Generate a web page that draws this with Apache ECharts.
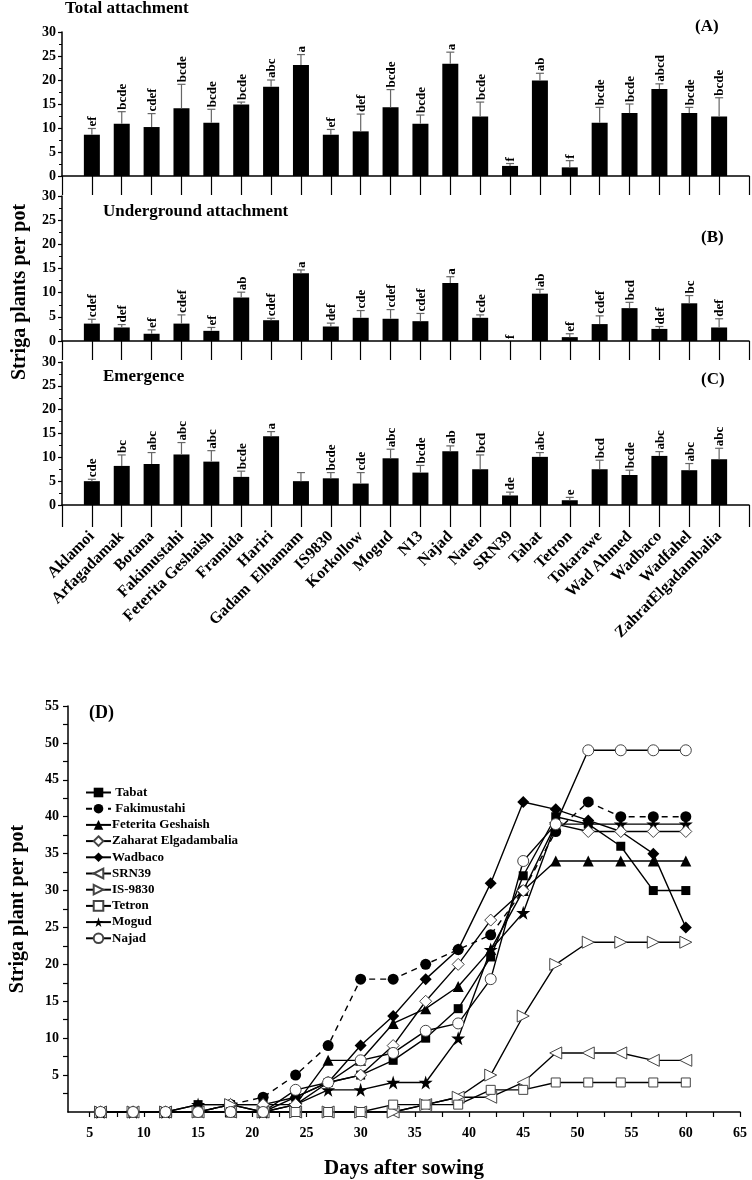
<!DOCTYPE html>
<html><head><meta charset="utf-8">
<script src="https://cdn.jsdelivr.net/npm/echarts@6/dist/echarts.min.js"></script>
<style>html,body{margin:0;padding:0;background:#fff}#c{width:752px;height:1180px}</style>
</head><body><div id="c"></div>
<script>
const categories = ['Aklamoi','Arfagadamak','Botana','Fakimustahi','Feterita Geshaish','Framida','Hariri','Gadam  Elhamam','IS9830','Korkollow','Mogud','N13','Najad','Naten','SRN39','Tabat','Tetron','Tokarawe','Wad Ahmed','Wadbaco','Wadfahel','ZahratElgadambalia'];
const catPos = [1,2,3,4,5,6,7,8,9,10,11,12,13,14,15,16,17,18,19,20,21,22];

const totalMean = [8.6,10.9,10.2,14.1,11.1,14.9,18.6,23.1,8.6,9.3,14.3,10.9,23.4,12.4,2.1,19.9,1.8,11.1,13.1,18.1,13.1,12.4];
const totalErr  = [9.9,13.4,13.0,19.1,13.9,15.4,20.0,25.3,9.7,12.9,18.0,12.7,25.8,15.4,2.6,21.4,3.2,14.3,15.0,19.2,14.3,16.3];
const totalLetters = ['ef','bcde','cdef','bcde','bcde','bcde','abc','a','ef','def','bcde','bcde','a','bcde','f','ab','f','bcde','bcde','abcd','bcde','bcde'];

const underMean = [3.6,2.8,1.5,3.6,2.1,9.0,4.3,14.0,3.0,4.8,4.6,4.1,12.0,4.8,0,9.8,0.8,3.5,6.8,2.5,7.8,2.8];
const underErr  = [4.5,3.4,2.3,5.4,2.8,10.1,4.7,14.7,3.7,6.3,6.5,5.7,13.3,5.4,0,10.7,1.5,5.2,8.0,3.0,9.4,4.6];
const underLetters = ['cdef','def','ef','cdef','ef','ab','cdef','a','def','cde','cdef','cdef','a','cde','f','ab','ef','cdef','bcd','def','bc','def'];

const emergMean = [5.0,8.2,8.6,10.6,9.1,5.9,14.4,5.0,5.6,4.5,9.8,6.8,11.3,7.5,2.0,10.1,1.0,7.5,6.3,10.3,7.3,9.6];
const emergErr  = [5.4,10.5,11.0,13.1,11.4,7.1,15.4,6.8,6.8,6.8,11.7,8.3,12.4,10.5,2.7,11.0,1.6,9.4,7.3,11.2,8.7,11.9];
const emergLetters = ['cde','bc','abc','abc','abc','bcde','a','','bcde','cde','abc','bcde','ab','bcd','de','abc','e','bcd','bcde','abc','abc','abc'];

const barYTicks = [0,5,10,15,20,25,30];

const days = [6,9,12,15,18,21,24,27,30,33,36,39,42,45,48,51,54,57,60];
const tabat      = [0,0,0,1,1,1,2,4,5,7,10,14,21,32,40,39,36,30,30];
const fakimustahi= [0,0,0,0,1,2,5,9,18,18,20,22,24,30,38,42,40,40,40];
const feterita   = [0,0,0,0,0,0,1,7,7,12,14,17,22,30,34,34,34,34,34];
const zaharat    = [0,0,0,0,1,1,1,4,5,9,15,20,26,30,39,38,38,38,38];
const wadbaco    = [0,0,0,0,0,0,2,4,9,13,18,22,31,42,41,39.5,38,35,25];
const srn39      = [0,0,0,0,0,0,0,0,0,0,1,2,2,4,8,8,8,7,7];
const is9830     = [0,0,0,0,1,0,0,0,0,0,1,2,5,13,20,23,23,23,23];
const tetron     = [0,0,0,0,0,0,0,0,0,1,1,1,3,3,4,4,4,4,4];
const mogud      = [0,0,0,1,1,0,1,3,3,4,4,10,22,27,39,39,39,39,39];
const najad      = [0,0,0,0,0,0,3,4,7,8,11,12,18,34,39,49,49,49,49];

const dXLabels = [5,10,15,20,25,30,35,40,45,50,55,60,65];
const dXTicks = [5,7.5,10,12.5,15,17.5,20,22.5,25,27.5,30,32.5,35,37.5,40,42.5,45,47.5,50,52.5,55,57.5,60,62.5,65];
const dYLabels = [5,10,15,20,25,30,35,40,45,50,55];
const dYTicks = [2.5,5,7.5,10,12.5,15,17.5,20,22.5,25,27.5,30,32.5,35,37.5,40,42.5,45,47.5,50,52.5,55];

const FF = '"Liberation Serif","Times New Roman",serif';
const chart = echarts.init(document.getElementById('c'), null, {renderer:'canvas'});

const grids = [
  {left:62, right:3, top:32, height:144},
  {left:62, right:3, top:196, height:145},
  {left:62, right:3, top:362, height:143},
  {left:62, right:12, top:706, height:408}
];

function pairs(xs, ys){ return xs.map((x,i)=>[x, ys[i]]); }
function triples(xs, ys, es){ return xs.map((x,i)=>[x, ys[i], es[i]]); }

function errRender(letters){
  return function(params, api){
    const v = api.value(1), e = api.value(2), x = api.value(0);
    const p0 = api.coord([x, v]), p1 = api.coord([x, e]);
    const ch = [];
    if (e > v) {
      ch.push({type:'line', shape:{x1:p0[0],y1:p0[1],x2:p1[0],y2:p1[1]}, style:{stroke:'#666',lineWidth:1.2}});
      ch.push({type:'line', shape:{x1:p1[0]-4,y1:p1[1],x2:p1[0]+4,y2:p1[1]}, style:{stroke:'#666',lineWidth:1.2}});
    }
    const t = letters[params.dataIndex];
    if (t) ch.push({type:'text', x:p1[0]+1, y:p1[1]-2, rotation:Math.PI/2,
      style:{text:t, x:0, y:0, align:'left', verticalAlign:'middle', fontSize:13, fontWeight:'bold', fontFamily:FF, fill:'#000'}});
    return {type:'group', children:ch};
  };
}

const xAxes = [0,1,2].map(i=>({
  gridIndex:i, type:'value', min:0, max:23, interval:1,
  axisLine:{show:true, lineStyle:{color:'#000', width:1.5}},
  axisTick:{show:true, length: i===2 ? 22 : 19, lineStyle:{color:'#000', width:1.2}},
  splitLine:{show:false},
  axisLabel:{show:i===2, rotate:45, margin:29, fontSize:16, fontWeight:'bold', fontFamily:FF, color:'#000',
    formatter:(v)=> (v>=1 && v<=categories.length) ? categories[v-1] : ''}
}));
xAxes.push({
  gridIndex:3, type:'value', min:3, max:65,
  axisLine:{show:true, lineStyle:{color:'#000', width:1.5}},
  axisTick:{show:true, length:5, customValues:dXTicks, lineStyle:{color:'#000', width:1.2}},
  axisLabel:{customValues:dXLabels, margin:14, fontSize:14, fontWeight:'bold', fontFamily:FF, color:'#000'},
  splitLine:{show:false},
  name:'Days after sowing', nameLocation:'middle', nameGap:46,
  nameTextStyle:{fontSize:21, fontWeight:'bold', fontFamily:FF, color:'#000'}
});

const yAxes = [0,1,2].map(i=>({
  gridIndex:i, type:'value', min:barYTicks[0], max:barYTicks[barYTicks.length-1], interval:5,
  axisLine:{show:true, lineStyle:{color:'#000', width:1.5}},
  axisTick:{show:true, length:4, lineStyle:{color:'#000', width:1.2}},
  minorTick:{show:true, splitNumber:2, length:3, lineStyle:{color:'#000', width:1}},
  splitLine:{show:false}, minorSplitLine:{show:false},
  axisLabel:{margin:6, fontSize:14, fontWeight:'bold', fontFamily:FF, color:'#000'}
}));
yAxes.push({
  gridIndex:3, type:'value', min:0, max:55,
  axisLine:{show:true, lineStyle:{color:'#000', width:1.5}},
  axisTick:{show:true, length:5, customValues:dYTicks, lineStyle:{color:'#000', width:1.2}},
  axisLabel:{customValues:dYLabels, margin:9, fontSize:14, fontWeight:'bold', fontFamily:FF, color:'#000'},
  splitLine:{show:false},
  name:'Striga plant per pot', nameLocation:'middle', nameGap:40, nameRotate:90,
  nameTextStyle:{fontSize:20, fontWeight:'bold', fontFamily:FF, color:'#000'}
});

const series = [];
const panels = [[totalMean,totalErr,totalLetters],[underMean,underErr,underLetters],[emergMean,emergErr,emergLetters]];
panels.forEach((p,i)=>{
  series.push({type:'bar', xAxisIndex:i, yAxisIndex:i, barWidth:16, itemStyle:{color:'#000'},
    data:pairs(catPos, p[0]), silent:true, z:2});
  series.push({type:'custom', xAxisIndex:i, yAxisIndex:i, renderItem:errRender(p[2]),
    data:triples(catPos, p[0], p[1]), encode:{x:0, y:[1,2]}, silent:true, z:3});
});

const starPath = 'path://M50,0 L61,35 L98,35 L68,57 L79,91 L50,70 L21,91 L32,57 L2,35 L39,35 Z';
function lineSeries(name, vals, symbol, size, open, opts){
  return Object.assign({
    name, type:'line', xAxisIndex:3, yAxisIndex:3, data:pairs(days, vals),
    symbol, symbolSize:size, showAllSymbol:true,
    lineStyle:{color:'#000', width:1.4},
    itemStyle: open ? {color:'#fff', borderColor:'#444', borderWidth:1} : {color:'#000', borderColor:'#000', borderWidth:0},
    emphasis:{disabled:true}, z:open?5:4
  }, opts||{});
}
series.push(lineSeries(' Tabat', tabat, 'rect', 9, false));
series.push(lineSeries(' Fakimustahi', fakimustahi, 'circle', 11, false, {lineStyle:{color:'#000', width:1.4, type:[6,5]}}));
series.push(lineSeries('Feterita Geshaish', feterita, 'triangle', 11, false));
series.push(lineSeries('Zaharat Elgadambalia', zaharat, 'diamond', 12, true));
series.push(lineSeries('Wadbaco', wadbaco, 'diamond', 12, false));
series.push(lineSeries('SRN39', srn39, 'triangle', 12, true, {symbolRotate:90}));
series.push(lineSeries('IS-9830', is9830, 'triangle', 12, true, {symbolRotate:-90}));
series.push(lineSeries('Tetron', tetron, 'rect', 9, true));
series.push(lineSeries('Mogud', mogud, starPath, 14, false));
series.push(lineSeries('Najad', najad, 'circle', 11, true));

const txt = (t, left, top, size, extra) => Object.assign({type:'text', left, top,
  style:{text:t, fontSize:size, fontWeight:'bold', fontFamily:FF, fill:'#000'}}, extra||{});

chart.setOption({
  animation:false,
  backgroundColor:'#fff',
  grid:grids,
  xAxis:xAxes,
  yAxis:yAxes,
  legend:{
    data:[' Tabat',' Fakimustahi','Feterita Geshaish','Zaharat Elgadambalia','Wadbaco','SRN39','IS-9830','Tetron','Mogud','Najad'],
    orient:'vertical', left:80, top:781, itemWidth:25, itemHeight:12, itemGap:3.2,
    textStyle:{fontSize:13, fontWeight:'bold', fontFamily:FF, color:'#000', padding:[0,0,0,-4]},
    selectedMode:false
  },
  graphic:[
    txt('Total attachment', 65, 0, 17),
    txt('(A)', 695, 18, 17),
    txt('Underground attachment', 103, 203, 17),
    txt('(B)', 701, 229, 17),
    txt('Emergence', 103, 368, 17),
    txt('(C)', 701, 371, 17),
    txt('(D)', 89, 704, 18),
    {type:'text', x:20, y:292, rotation:Math.PI/2,
      style:{text:'Striga plants per pot', fontSize:20, fontWeight:'bold', fontFamily:FF, fill:'#000', align:'center', verticalAlign:'middle'}}
  ],
  series
});
</script>
</body></html>
